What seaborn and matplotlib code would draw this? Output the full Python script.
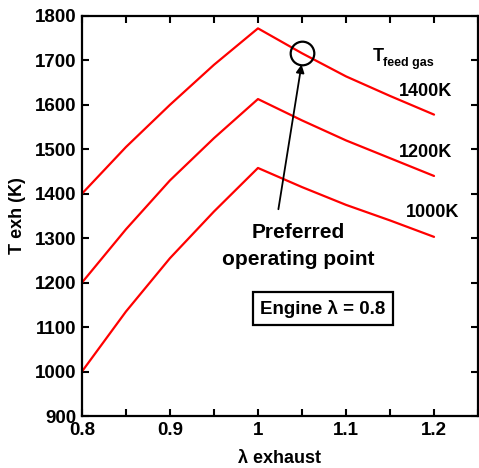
import numpy as np
import pandas as pd
import matplotlib
matplotlib.use("Agg")
import matplotlib.pyplot as plt
import seaborn as sns

# ---- data ----
lam_exhaust = [0.80, 0.85, 0.90, 0.95, 1.00, 1.05, 1.10, 1.15, 1.20]
t_1400 = [1400, 1505, 1600, 1690, 1772, 1716, 1664, 1620, 1578]
t_1200 = [1200, 1320, 1430, 1525, 1613, 1565, 1520, 1480, 1440]
t_1000 = [1000, 1135, 1255, 1360, 1458, 1415, 1375, 1340, 1303]
feed_labels = ["1400K", "1200K", "1000K"]

x_ticks = [0.80, 0.85, 0.90, 0.95, 1.00, 1.05, 1.10, 1.15, 1.20, 1.25]
x_ticklabels = ["0.8", "", "0.9", "", "1", "", "1.1", "", "1.2", ""]
y_ticks = list(range(900, 1801, 100))

preferred = (1.05, 1716)

df = pd.DataFrame({
    "lam": lam_exhaust * 3,
    "T": t_1400 + t_1200 + t_1000,
    "feed": np.repeat(feed_labels, len(lam_exhaust)),
})

sns.set_style("ticks")
plt.rcParams["font.family"] = ["Liberation Sans", "DejaVu Sans"]
plt.rcParams["font.weight"] = "bold"
for key in ["text.color", "axes.labelcolor", "xtick.color", "ytick.color",
            "axes.edgecolor"]:
    plt.rcParams[key] = "black"

fig = plt.figure(figsize=(4.79, 4.68), dpi=100)
ax = fig.add_axes([0.171, 0.111, 0.827, 0.855])

sns.lineplot(data=df, x="lam", y="T", hue="feed", palette=["#ff0000"] * 3,
             linewidth=1.6, legend=False, ax=ax)

ax.set_xlim(0.8, 1.25)
ax.set_ylim(900, 1800)
ax.set_xticks(x_ticks)
ax.set_xticklabels(x_ticklabels)
ax.set_yticks(y_ticks)
ax.tick_params(direction="in", length=5, width=1.5, top=True, right=True,
               labelsize=13.5, pad=4)
for lab in ax.get_xticklabels() + ax.get_yticklabels():
    lab.set_fontweight("bold")
for sp in ax.spines.values():
    sp.set_linewidth(1.6)
    sp.set_visible(True)

ax.set_xlabel("λ exhaust", fontsize=13, fontweight="bold", labelpad=8)
ax.set_ylabel("T exh (K)", fontsize=13, fontweight="bold", labelpad=6)

# curve labels
ax.text(1.22, 1631, "1400K", ha="right", va="center", fontsize=13, fontweight="bold")
ax.text(1.22, 1492, "1200K", ha="right", va="center", fontsize=13, fontweight="bold")
ax.text(1.229, 1357, "1000K", ha="right", va="center", fontsize=13, fontweight="bold")
ax.text(1.1307, 1709, "T", ha="left", va="center", fontsize=13, fontweight="bold")
ax.text(1.142, 1693, "feed gas", ha="left", va="center", fontsize=9, fontweight="bold")

# preferred operating point
ax.plot(*preferred, marker="o", markersize=17, markerfacecolor="none",
        markeredgecolor="black", markeredgewidth=1.6)
ax.annotate("", xy=(1.05, 1697), xytext=(1.0227, 1359),
            arrowprops=dict(arrowstyle="-|>", color="black", lw=1.3,
                            mutation_scale=12))
ax.text(1.0455, 1283, "Preferred\noperating point", ha="center", va="center",
        fontsize=15, fontweight="bold", linespacing=1.5)

ax.text(1.074, 1141, "Engine λ = 0.8", ha="center", va="center",
        fontsize=13.5, fontweight="bold",
        bbox=dict(boxstyle="square,pad=0.4", facecolor="white",
                  edgecolor="black", linewidth=1.6))

fig.savefig("out.png", dpi=100)
